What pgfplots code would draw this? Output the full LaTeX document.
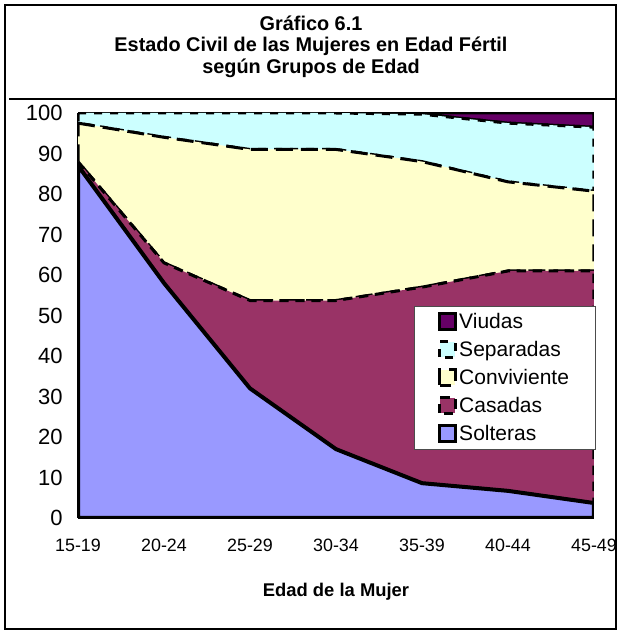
\documentclass[border=0pt]{standalone}
\usepackage{fontspec}
\setmainfont{Liberation Sans}
\usepackage{pgfplots}
\pgfplotsset{compat=1.18}
\definecolor{solt}{HTML}{9999FF}
\definecolor{casa}{HTML}{993366}
\definecolor{conv}{HTML}{FFFFCC}
\definecolor{sepa}{HTML}{CCFFFF}
\definecolor{viud}{HTML}{660066}
\begin{document}
\begin{tikzpicture}[x=0.75pt,y=0.75pt]
\path[use as bounding box] (0,0) rectangle (621,632);
\draw[line width=0.9pt] (5,3) rectangle (616,627);
\draw[line width=1.2pt] (9,533) -- (617,533);
\node[font=\fontsize{14.9}{17}\selectfont\bfseries] at (311,609) {Gráfico 6.1};
\node[font=\fontsize{14.9}{17}\selectfont\bfseries] at (311,586) {Estado Civil de las Mujeres en Edad Fértil};
\node[font=\fontsize{14.9}{17}\selectfont\bfseries] at (311,564) {según Grupos de Edad};
\begin{axis}[at={(58.5pt,85.5pt)}, anchor=south west, scale only axis,
  width=387pt, height=303.75pt,
  xmin=0, xmax=6, ymin=0, ymax=100,
  xtick={0,...,6}, xticklabels={15-19,20-24,25-29,30-34,35-39,40-44,45-49},
  ytick={0,10,...,100},
  major tick length=0pt,
  axis x line*=bottom, axis y line*=left,
  axis line style={line width=1.5pt, -},
  stack plots=y,
  /pgf/number format/assume math mode=true,
  yticklabel style={font=\fontsize{16.5}{18}\selectfont, xshift=-8pt},
  xticklabel style={font=\fontsize{13.4}{16}\selectfont, yshift=-12.5pt},
  xlabel={Edad de la Mujer},
  xlabel style={font=\fontsize{13.8}{16}\selectfont\bfseries, at={(axis description cs:0.5,0)}, anchor=center, yshift=-55.5pt},
  reverse legend,
  legend cell align=left,
  legend style={at={(rel axis cs:0.651,0.523)}, anchor=north west,
    draw=black!70, line width=0.6pt, fill=white,
    font=\fontsize{15.75}{19}\selectfont,
    inner xsep=18pt, inner ysep=3pt, row sep=4.1pt},
  legend image code/.code={\draw[#1, line width=2.2pt] (0pt,-5.5pt) rectangle (11.5pt,6pt);},
]
\addplot[fill=solt, draw=black, line width=3pt] coordinates
  {(0,87) (1,58) (2,32) (3,17) (4,8.6) (5,6.7) (6,3.7)} \closedcycle;
\addplot[fill=casa, draw=black, line width=2.25pt, dash pattern=on 7pt off 5pt] coordinates
  {(0,1) (1,5) (2,21.7) (3,36.7) (4,48.4) (5,54.3) (6,57.3)} \closedcycle;
\addplot[fill=conv, draw=black, line width=2.25pt, dash pattern=on 12.75pt off 6pt] coordinates
  {(0,9.5) (1,31) (2,37.3) (3,37.3) (4,31) (5,22) (6,19.7)} \closedcycle;
\addplot[fill=sepa, draw=black, line width=2.25pt, dash pattern=on 6pt off 6pt] coordinates
  {(0,2.5) (1,6) (2,9) (3,9) (4,11.7) (5,14.5) (6,15.8)} \closedcycle;
\addplot[fill=viud, draw=black, line width=2.25pt] coordinates
  {(0,0) (1,0) (2,0) (3,0) (4,0.3) (5,2.5) (6,3.5)} \closedcycle;
\legend{Solteras,Casadas,Conviviente,Separadas,Viudas}
\end{axis}
\end{tikzpicture}
\end{document}
